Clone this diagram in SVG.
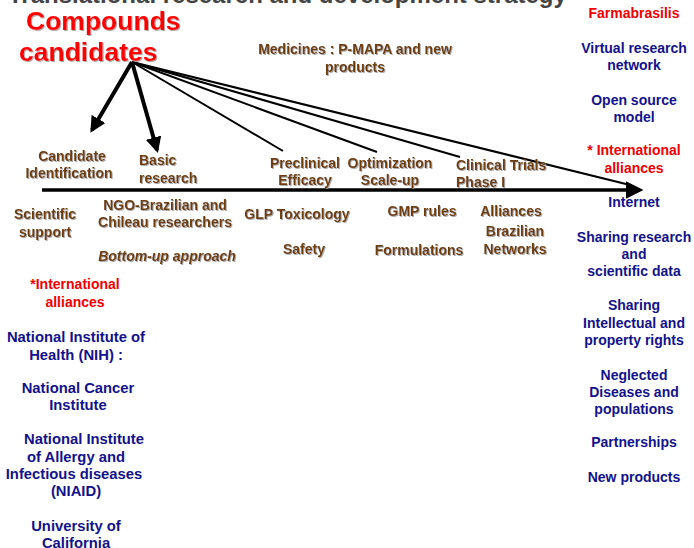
<svg xmlns="http://www.w3.org/2000/svg" width="694" height="548" viewBox="0 0 694 548">
<defs>
<filter id="sh" x="-10%" y="-20%" width="130%" height="150%">
<feDropShadow dx="1" dy="1" stdDeviation="0.6" flood-color="#999" flood-opacity="0.8"/>
</filter>
<marker id="ah" viewBox="0 0 10 10" refX="8" refY="5" markerWidth="4" markerHeight="4" orient="auto" markerUnits="strokeWidth">
<path d="M0,0 L10,5 L0,10 z" fill="#000"/>
</marker>
<marker id="ah2" viewBox="0 0 10 10" refX="8" refY="5" markerWidth="5" markerHeight="5" orient="auto" markerUnits="strokeWidth">
<path d="M0,0 L10,5 L0,10 z" fill="#000"/>
</marker>
</defs>
<style>
text{font-family:"Liberation Sans",Arial,sans-serif;font-weight:bold;font-size:14px;text-anchor:middle}
.br{fill:#6e3d0c;filter:url(#sh)}
.bl{fill:#12128a}
.lb{font-size:14.8px}
.rd{fill:#f00000}
.big{font-size:26.5px;fill:#ff0000;filter:url(#sh);text-anchor:start}
.title{font-size:24px;fill:#444;text-anchor:start}
.ln{stroke:#000;fill:none}
</style>
<rect width="694" height="548" fill="#fff"/>
<text class="title" x="8" y="2.5">Translational research and development strategy</text>

<g id="connectors">
<line class="ln" x1="42" y1="190" x2="640" y2="190" stroke-width="3.5" marker-end="url(#ah2)"/>
<line class="ln" x1="132" y1="62" x2="92" y2="130" stroke-width="4" marker-end="url(#ah)"/>
<line class="ln" x1="132" y1="62" x2="157" y2="150" stroke-width="4" marker-end="url(#ah)"/>
<line class="ln" x1="132" y1="62" x2="283" y2="151" stroke-width="2"/>
<line class="ln" x1="132" y1="62" x2="377" y2="152" stroke-width="2"/>
<line class="ln" x1="132" y1="62" x2="460" y2="157" stroke-width="2"/>
<line class="ln" x1="132" y1="62" x2="630" y2="185" stroke-width="2"/>
</g>

<g id="compounds">
<text class="big" x="26" y="30">Compounds</text>
<text class="big" x="19" y="61">candidates</text>
</g>
<g id="medicines"><text class="br" x="355" y="54">Medicines : P-MAPA and new</text><text class="br" x="355" y="72">products</text></g>

<g id="candidate"><text class="br" x="72" y="161">Candidate</text><text class="br" x="69" y="178">Identification</text></g>
<g id="basic"><text class="br" x="139" y="165" style="text-anchor:start">Basic</text><text class="br" x="139" y="183" style="text-anchor:start">research</text></g>
<g id="preclinical"><text class="br" x="305" y="168">Preclinical</text><text class="br" x="305" y="185">Efficacy</text></g>
<g id="optimization"><text class="br" x="390" y="168">Optimization</text><text class="br" x="390" y="185">Scale-up</text></g>
<g id="clinical"><text class="br" x="456" y="170" style="text-anchor:start">Clinical Trials</text><text class="br" x="456" y="187" style="text-anchor:start">Phase I</text></g>

<g id="scientific"><text class="br" x="45" y="219">Scientific</text><text class="br" x="45" y="237">support</text></g>
<g id="ngo"><text class="br" x="165" y="210">NGO-Brazilian and</text><text class="br" x="165" y="227">Chileau researchers</text></g>
<g id="bottom"><text class="br" x="167" y="261" style="font-style:italic">Bottom-up approach</text></g>
<g id="glp"><text class="br" x="297" y="219">GLP Toxicology</text></g>
<g id="safety"><text class="br" x="304" y="254">Safety</text></g>
<g id="gmp"><text class="br" x="422" y="216">GMP rules</text></g>
<g id="formulations"><text class="br" x="419" y="255">Formulations</text></g>
<g id="alliances"><text class="br" x="511" y="216">Alliances</text></g>
<g id="brazilian"><text class="br" x="515" y="236">Brazilian</text><text class="br" x="515" y="254">Networks</text></g>

<g id="intl-left"><text class="rd" x="75" y="289">*International</text><text class="rd" x="75" y="307">alliances</text></g>
<g id="nih"><text class="bl lb" x="76" y="342">National Institute of</text><text class="bl lb" x="76" y="360">Health (NIH) :</text></g>
<g id="nci"><text class="bl lb" x="78" y="393">National Cancer</text><text class="bl lb" x="78" y="410">Institute</text></g>
<g id="niaid"><text class="bl lb" x="84" y="444">National Institute</text><text class="bl lb" x="76" y="462">of Allergy and</text><text class="bl lb" x="74" y="479">Infectious diseases</text><text class="bl lb" x="76" y="496">(NIAID)</text></g>
<g id="uc"><text class="bl lb" x="76" y="531">University of</text><text class="bl lb" x="76" y="548">California</text></g>

<g id="farmabrasilis"><text class="rd" x="634" y="18">Farmabrasilis</text></g>
<g id="virtual"><text class="bl" x="634" y="53">Virtual research</text><text class="bl" x="634" y="70">network</text></g>
<g id="opensource"><text class="bl" x="634" y="105">Open source</text><text class="bl" x="634" y="122">model</text></g>
<g id="intl-right"><text class="rd" x="634" y="155">* International</text><text class="rd" x="634" y="173">alliances</text></g>
<g id="internet"><text class="bl" x="634" y="207">Internet</text></g>
<g id="sharing1"><text class="bl" x="634" y="242">Sharing research</text><text class="bl" x="634" y="259">and</text><text class="bl" x="634" y="276">scientific data</text></g>
<g id="sharing2"><text class="bl" x="634" y="310">Sharing</text><text class="bl" x="634" y="328">Intellectual and</text><text class="bl" x="634" y="345">property rights</text></g>
<g id="neglected"><text class="bl" x="634" y="380">Neglected</text><text class="bl" x="634" y="397">Diseases and</text><text class="bl" x="634" y="414">populations</text></g>
<g id="partnerships"><text class="bl" x="634" y="447">Partnerships</text></g>
<g id="newproducts"><text class="bl" x="634" y="482">New products</text></g>
</svg>
